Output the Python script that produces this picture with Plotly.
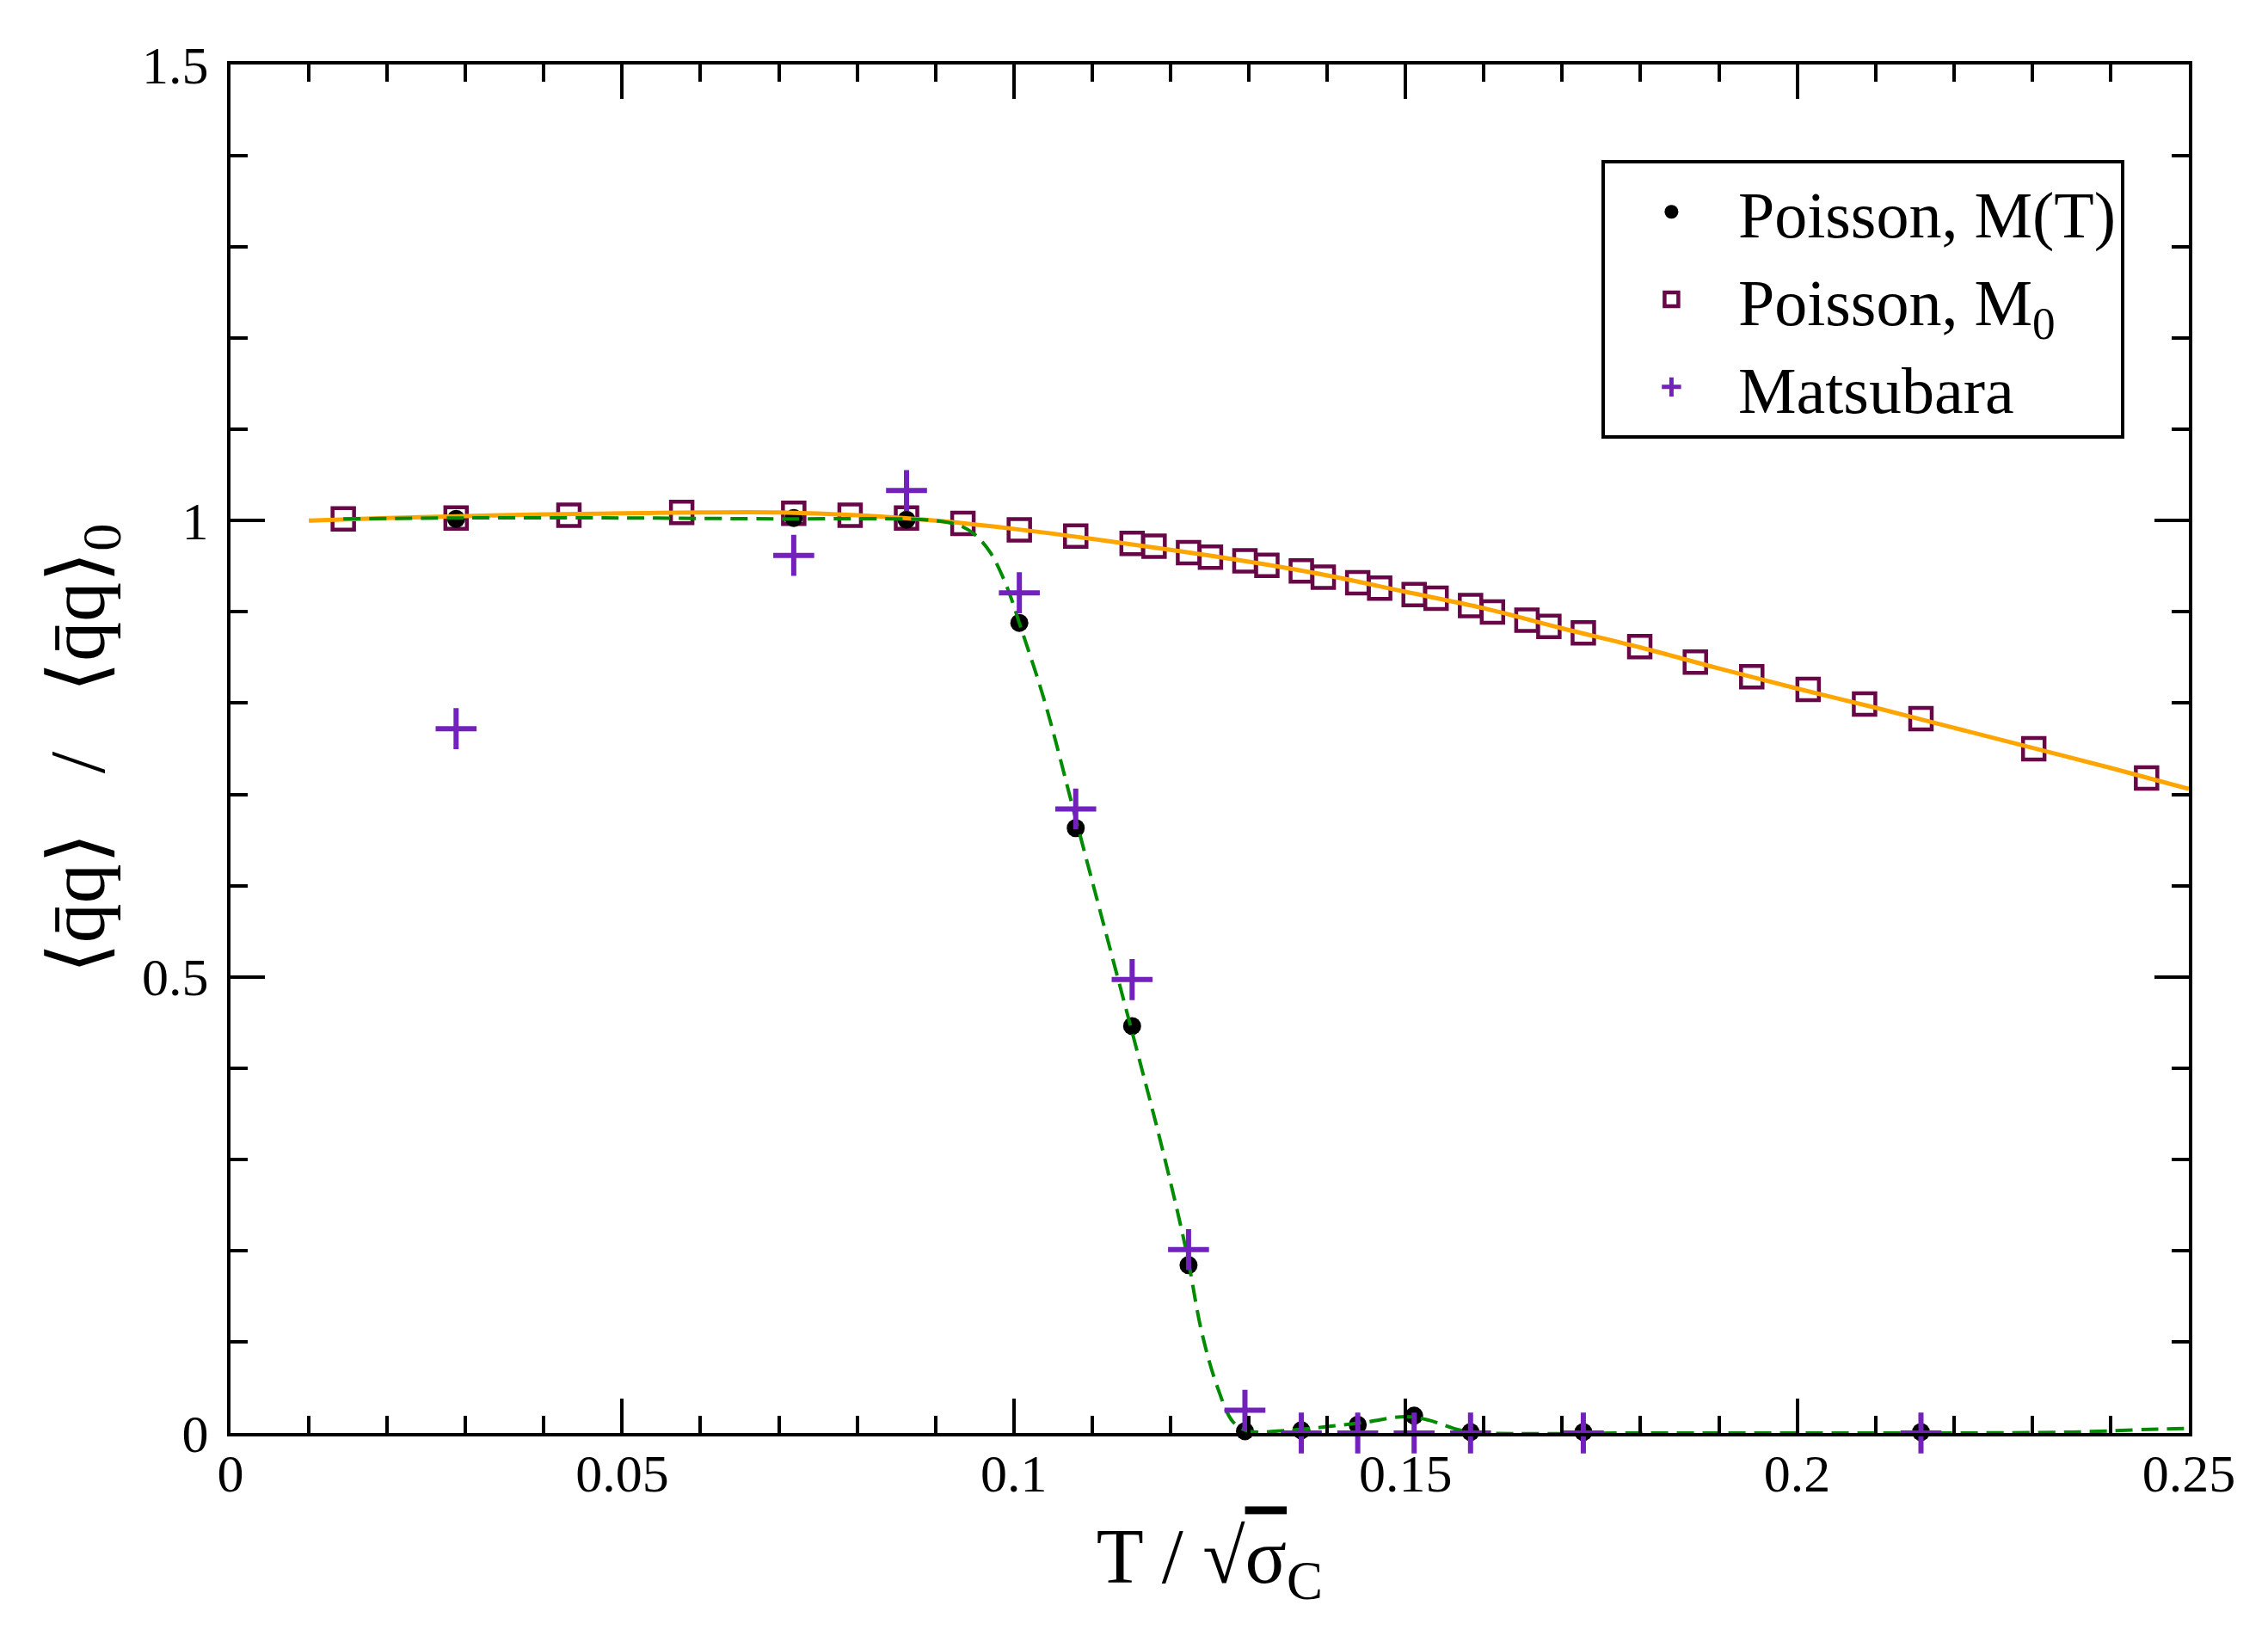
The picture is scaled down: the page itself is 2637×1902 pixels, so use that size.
import plotly.graph_objects as go

# Poisson, M_0 (open squares)
t_m0 = [0.0144, 0.0288, 0.0432, 0.0576, 0.0719, 0.0791, 0.0863, 0.0935, 0.1007,
        0.1079, 0.1151, 0.1179, 0.1223, 0.1251, 0.1295, 0.1323, 0.1367, 0.1395,
        0.1439, 0.1467, 0.1511, 0.1539, 0.1583, 0.1611, 0.1655, 0.1683, 0.1727,
        0.1799, 0.1870, 0.1942, 0.2014, 0.2086, 0.2158, 0.2302, 0.2446]
qq_m0 = [1.002, 1.003, 1.006, 1.009, 1.008, 1.006, 1.003, 0.997, 0.990,
         0.983, 0.975, 0.972, 0.965, 0.960, 0.956, 0.951, 0.945, 0.938,
         0.932, 0.926, 0.919, 0.915, 0.907, 0.900, 0.891, 0.884, 0.877,
         0.862, 0.845, 0.829, 0.815, 0.799, 0.783, 0.750, 0.718]

# Poisson, M(T) (filled dots) and Matsubara (crosses) share the same temperatures
t_mt = [0.0288, 0.0719, 0.0863, 0.1007, 0.1079, 0.1151, 0.1223, 0.1295, 0.1367,
        0.1439, 0.1511, 0.1583, 0.1727, 0.2158]
qq_mt = [1.002, 1.003, 1.001, 0.888, 0.663, 0.446, 0.184, 0.002, 0.003,
         0.009, 0.019, 0.001, 0.001, 0.001]
qq_mats = [0.772, 0.962, 1.033, 0.921, 0.684, 0.497, 0.201, 0.025, 0.0,
           0.0, 0.0, 0.0, 0.0, 0.0]

# orange solid curve (through the M_0 points)
t_fit0 = [0.01, 0.02, 0.03, 0.04, 0.05, 0.06, 0.07, 0.08, 0.09, 0.10, 0.11, 0.12,
          0.13, 0.14, 0.15, 0.16, 0.17, 0.18, 0.19, 0.20, 0.21, 0.22, 0.23, 0.24, 0.25]
qq_fit0 = [1.000, 1.003, 1.005, 1.007, 1.008, 1.009, 1.009, 1.006, 1.000, 0.991, 0.980, 0.968,
           0.955, 0.940, 0.922, 0.904, 0.882, 0.861, 0.838, 0.816, 0.795, 0.773, 0.751, 0.729, 0.706]

# green dashed curve (through the M(T) points)
t_fitT = [0.0144, 0.03, 0.05, 0.07, 0.085, 0.09, 0.093, 0.095, 0.097, 0.099, 0.101,
          0.104, 0.108, 0.112, 0.116, 0.119, 0.122, 0.124, 0.126, 0.128, 0.130,
          0.135, 0.140, 0.145, 0.150, 0.153, 0.157, 0.160, 0.18, 0.20, 0.22,
          0.235, 0.245, 0.25]
qq_fitT = [1.002, 1.003, 1.003, 1.002, 1.002, 1.000, 0.995, 0.985, 0.965, 0.930, 0.880,
           0.800, 0.670, 0.540, 0.410, 0.310, 0.200, 0.110, 0.050, 0.012, 0.002,
           0.003, 0.007, 0.012, 0.018, 0.014, 0.003, 0.0, 0.0, 0.0, 0.0,
           0.001, 0.004, 0.005]

FONT = "Liberation Serif, Times New Roman, serif"
NB = "\u00a0"

fig = go.Figure()

fig.add_trace(go.Scatter(
    x=t_m0, y=qq_m0, mode="markers", name="Poisson, M<sub>0</sub>",
    marker=dict(symbol="square-open", size=25, color="rgb(103,7,72)",
                line=dict(width=4.5, color="rgb(103,7,72)")),
    cliponaxis=False, legendrank=2))
fig.add_trace(go.Scatter(
    x=t_mt, y=qq_mt, mode="markers", name="Poisson, M(T)",
    marker=dict(symbol="circle", size=21, color="black"),
    cliponaxis=False, legendrank=1))
fig.add_trace(go.Scatter(
    x=t_fit0, y=qq_fit0, mode="lines", showlegend=False,
    line=dict(color="rgb(255,165,0)", width=5, shape="spline")))
fig.add_trace(go.Scatter(
    x=t_fitT, y=qq_fitT, mode="lines", showlegend=False,
    line=dict(color="rgb(0,139,0)", width=4, dash="20px,10px", shape="spline")))
fig.add_trace(go.Scatter(
    x=t_mt, y=qq_mats, mode="markers", name="Matsubara",
    marker=dict(symbol="cross-thin", size=34,
                line=dict(width=6, color="rgb(114,33,188)")),
    cliponaxis=False, legendrank=3))

axis_style = dict(
    showline=True, linecolor="black", linewidth=4, mirror="ticks",
    ticks="inside", ticklen=40, tickwidth=4, tickcolor="black",
    showgrid=False, zeroline=False,
    tickfont=dict(family=FONT, size=62, color="black"),
)

fig.update_xaxes(
    range=[0, 0.25], dtick=0.05, tick0=0,
    minor=dict(ticks="inside", ticklen=20, tickwidth=4, tickcolor="black", dtick=0.01),
    title=dict(text="T / √<span style='text-decoration:overline'>σ</span><sub>C</sub>",
               font=dict(family=FONT, size=90, color="black"), standoff=32),
    ticklabelstandoff=-10,
    **axis_style)
fig.update_yaxes(
    range=[0, 1.5], dtick=0.5, tick0=0,
    minor=dict(ticks="inside", ticklen=20, tickwidth=4, tickcolor="black", dtick=0.1),
    title=dict(text=NB * 5 + "⟨q̄q⟩" + NB * 3 + "/" + NB * 3 + "⟨q̄q⟩<sub>0</sub>",
               font=dict(family=FONT, size=92, color="black"), standoff=14),
    ticklabelstandoff=9,
    **axis_style)

fig.update_layout(
    width=2637, height=1902,
    margin=dict(l=260, r=100, t=67, b=244),
    plot_bgcolor="white", paper_bgcolor="white",
    font=dict(family=FONT, color="black"),
    legend=dict(
        x=0.70, y=0.93, xanchor="left", yanchor="top",
        bgcolor="white", bordercolor="black", borderwidth=4,
        font=dict(family=FONT, size=76, color="black"),
        itemwidth=145, tracegroupgap=0,
    ),
)

fig.write_html("out.html")
